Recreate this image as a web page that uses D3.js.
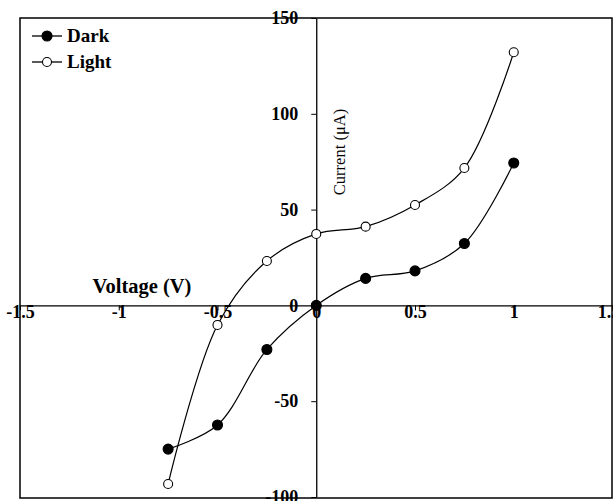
<!DOCTYPE html>
<html><head><meta charset="utf-8">
<script src="https://cdn.jsdelivr.net/npm/d3@7"></script>
<style>body{margin:0;background:#fff}</style>
</head><body>
<svg id="chart" width="613" height="501"></svg>
<script>
const voltage = [-0.75, -0.5, -0.25, 0, 0.25, 0.5, 0.75, 1];
const darkCurrent = [-75, -62.4, -23, 0, 14.1, 18, 32.3, 74.3];
const lightCurrent = [-93.2, -10.2, 23.2, 37.3, 41.1, 52.4, 71.7, 132.1];
const xTicks = [-1.5, -1, -0.5, 0, 0.5, 1, 1.5];
const yTicks = [-100, -50, 0, 50, 100, 150];
const seriesNames = ["Dark", "Light"];

const svg = d3.select("#chart");
const font = "'Liberation Serif', 'Times New Roman', serif";
svg.append("rect").attr("width", 613).attr("height", 501).attr("fill", "#fff");

const x = d3.scaleLinear().domain([-1.5, 1.5]).range([20, 612.5]);
const y = d3.scaleLinear().domain([-100, 150]).range([497, 18]);

// frame
svg.append("rect").attr("x", 20).attr("y", 18).attr("width", 592).attr("height", 480)
  .attr("fill", "none").attr("stroke", "#000").attr("stroke-width", 1.5);

// x axis at y=0
const xAxis = d3.axisBottom(x).tickValues(xTicks).tickSize(5).tickSizeOuter(0)
  .tickFormat(d => String(d));
const gx = svg.append("g").attr("transform", `translate(0,${y(0)})`).call(xAxis);
gx.select(".domain").attr("stroke", "#000").attr("stroke-width", 1.3);
gx.selectAll(".tick line").attr("stroke", "#000");
gx.selectAll(".tick text").attr("font-family", font).attr("font-size", 18).attr("font-weight", "bold")
  .attr("fill", "#000").attr("dy", "0.6em").attr("y", 2);
gx.selectAll(".tick").filter(d => d === 1.5).select("text").attr("dx", -4);

// y axis at x=0
const yAxis = d3.axisLeft(y).tickValues(yTicks).tickSize(5).tickSizeOuter(0)
  .tickFormat(d => String(d));
const gy = svg.append("g").attr("transform", `translate(${x(0)},0)`).call(yAxis);
gy.select(".domain").attr("stroke", "#000").attr("stroke-width", 1.3);
gy.selectAll(".tick line").attr("stroke", "#000");
gy.selectAll(".tick text").attr("font-family", font).attr("font-size", 18).attr("font-weight", "bold")
  .attr("fill", "#000").attr("x", -18);

// axis titles
svg.append("text").attr("x", 142).attr("y", 293).attr("text-anchor", "middle")
  .attr("font-family", font).attr("font-size", 20.5).attr("font-weight", "bold").text("Voltage (V)");
svg.append("text").attr("transform", "translate(345,152) rotate(-90)").attr("text-anchor", "middle")
  .attr("font-family", font).attr("font-size", 16.5).text("Current (μA)");

const line = d3.line().x(d => x(d[0])).y(d => y(d[1])).curve(d3.curveCatmullRom.alpha(0.5));
const dark = voltage.map((v, i) => [v, darkCurrent[i]]);
const light = voltage.map((v, i) => [v, lightCurrent[i]]);

[[dark, true], [light, false]].forEach(([data, filled]) => {
  svg.append("path").datum(data).attr("d", line).attr("fill", "none")
    .attr("stroke", "#000").attr("stroke-width", 1.2);
  svg.selectAll(null).data(data).enter().append("circle")
    .attr("cx", d => x(d[0])).attr("cy", d => y(d[1]))
    .attr("r", filled ? 5 : 4.5)
    .attr("fill", filled ? "#000" : "#fff").attr("stroke", "#000").attr("stroke-width", 1.1);
});

// legend
const leg = svg.append("g");
seriesNames.forEach((name, i) => {
  const ly = 36 + i * 26;
  leg.append("line").attr("x1", 32).attr("x2", 62).attr("y1", ly).attr("y2", ly)
    .attr("stroke", "#000").attr("stroke-width", 1.3);
  leg.append("circle").attr("cx", 47).attr("cy", ly).attr("r", i === 0 ? 5 : 4.5)
    .attr("fill", i === 0 ? "#000" : "#fff").attr("stroke", "#000").attr("stroke-width", 1.1);
  leg.append("text").attr("x", 67).attr("y", ly + 6).attr("font-family", font)
    .attr("font-size", 19).attr("font-weight", "bold").text(name);
});
</script>
</body></html>
